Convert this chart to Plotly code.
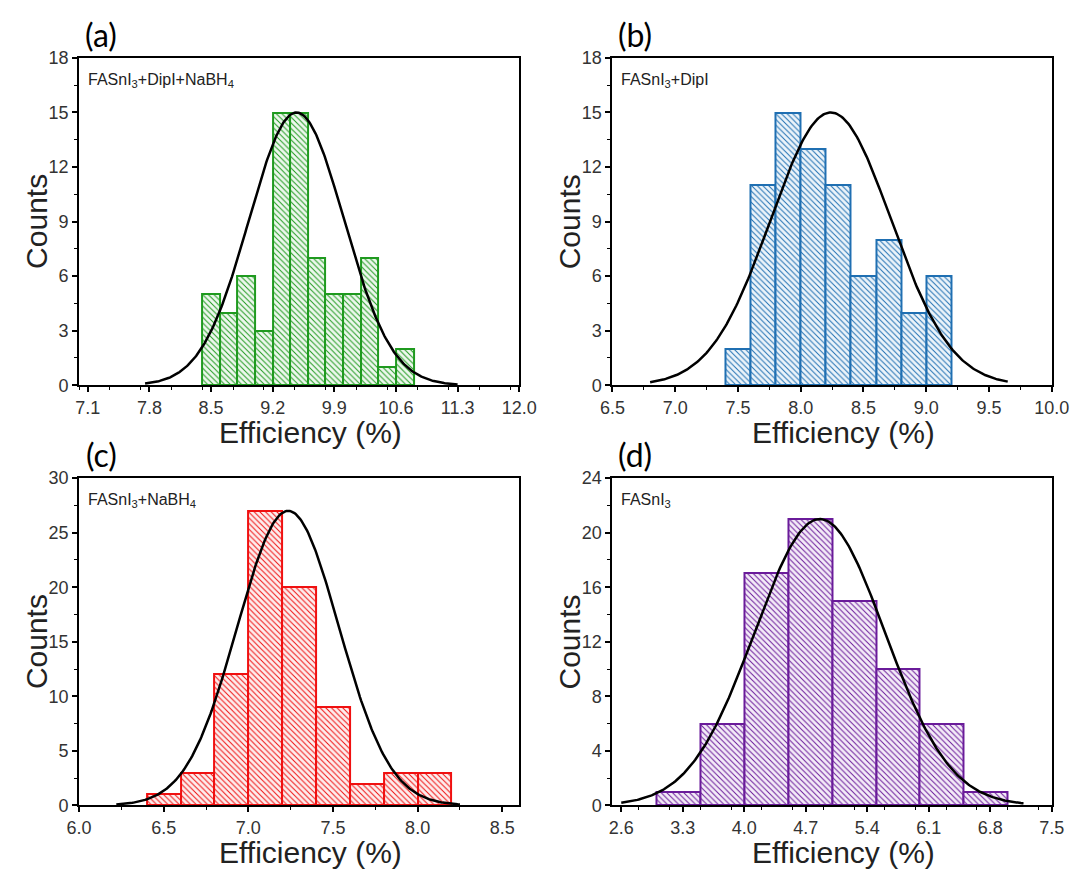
import numpy as np
import plotly.graph_objects as go

W, H = 1092, 879

# ---------------- data ----------------
# (a) FASnI3+DipI+NaBH4
a_left_edges = [8.4, 8.6, 8.8, 9.0, 9.2, 9.4, 9.6, 9.8, 10.0, 10.2, 10.4, 10.6]
a_counts = [5, 4, 6, 3, 15, 15, 7, 5, 5, 7, 1, 2]
a_bin = 0.2
a_fit = dict(mean=9.47, sigma=0.54, peak=15.0, lo=7.75, hi=11.3)

# (b) FASnI3+DipI
b_left_edges = [7.4, 7.6, 7.8, 8.0, 8.2, 8.4, 8.6, 8.8, 9.0]
b_counts = [2, 11, 15, 13, 11, 6, 8, 4, 6]
b_bin = 0.2
b_fit = dict(mean=8.24, sigma=0.48, peak=15.0, lo=6.8, hi=9.65)

# (c) FASnI3+NaBH4
c_left_edges = [6.4, 6.6, 6.8, 7.0, 7.2, 7.4, 7.6, 7.8, 8.0]
c_counts = [1, 3, 12, 27, 20, 9, 2, 3, 3]
c_bin = 0.2
c_fit = dict(mean=7.235, sigma=0.30, peak=27.0, lo=6.22, hi=8.25)

# (d) FASnI3
d_left_edges = [3.0, 3.5, 4.0, 4.5, 5.0, 5.5, 6.0, 6.5]
d_counts = [1, 6, 17, 21, 15, 10, 6, 1]
d_bin = 0.5
d_fit = dict(mean=4.86, sigma=0.74, peak=21.0, lo=2.6, hi=7.18)

labels = ["FASnI<sub>3</sub>+DipI+NaBH<sub>4</sub>", "FASnI<sub>3</sub>+DipI",
          "FASnI<sub>3</sub>+NaBH<sub>4</sub>", "FASnI<sub>3</sub>"]
panel_tags = ["(a)", "(b)", "(c)", "(d)"]

x_ranges = [[7.0, 12.0], [6.5, 10.0], [6.0, 8.6], [2.5, 7.5]]
x_tick0 = [7.1, 6.5, 6.0, 2.6]
x_dtick = [0.7, 0.5, 0.5, 0.7]
y_ranges = [[0, 18], [0, 18], [0, 30], [0, 24]]
y_dtick = [3, 3, 5, 4]

colors = ["#1f9a1f", "#1f6fb2", "#f01010", "#6a1b9a"]
bg_tints = ["#eef8ee", "#ecf4fa", "#fdeeee", "#f4ecf8"]

panels = [
    (a_left_edges, a_counts, a_bin, a_fit),
    (b_left_edges, b_counts, b_bin, b_fit),
    (c_left_edges, c_counts, c_bin, c_fit),
    (d_left_edges, d_counts, d_bin, d_fit),
]

# plot areas in pixels (left, right, top, bottom)
boxes = [(68, 521, 49, 384), (617, 1069, 49, 384),
         (68, 521, 479, 814), (617, 1069, 479, 814)]

fig = go.Figure()
FONT = "Liberation Sans, Arial, sans-serif"

for i, ((edges, counts, bw, fit), box) in enumerate(zip(panels, boxes)):
    n = "" if i == 0 else str(i + 1)
    xa, ya = "x" + n, "y" + n
    centers = [e + bw / 2 for e in edges]
    fig.add_trace(go.Bar(
        x=centers, y=counts, width=bw, xaxis=xa, yaxis=ya,
        marker=dict(color=bg_tints[i],
                    line=dict(color=colors[i], width=2),
                    pattern=dict(shape="\\", fgcolor=colors[i], bgcolor=bg_tints[i],
                                 size=4, solidity=0.25, fillmode="replace")),
        showlegend=False))
    xs = np.linspace(fit["lo"], fit["hi"], 300)
    ys = fit["peak"] * np.exp(-0.5 * ((xs - fit["mean"]) / fit["sigma"]) ** 2)
    fig.add_trace(go.Scatter(x=xs, y=ys, mode="lines", xaxis=xa, yaxis=ya,
                             line=dict(color="black", width=2.5), showlegend=False))

    l, r, t, b = box
    xd = [l / W, r / W]
    yd = [1 - b / H, 1 - t / H]
    axis_common = dict(showline=True, linecolor="black", linewidth=2, mirror=True,
                       showgrid=False, zeroline=False, ticks="outside", ticklen=5,
                       tickwidth=1.5, tickcolor="black",
                       tickfont=dict(family=FONT, size=18, color="#333"))
    fig.update_layout(**{
        "xaxis" + n: dict(domain=xd, range=x_ranges[i], tick0=x_tick0[i], dtick=x_dtick[i],
                          tickformat=".1f", anchor=ya,
                          minor=dict(ticks="outside", ticklen=3, tickwidth=1.2,
                                     tickcolor="black", dtick=x_dtick[i] / 2),
                          **axis_common),
        "yaxis" + n: dict(domain=yd, range=y_ranges[i], tick0=0, dtick=y_dtick[i],
                          anchor=xa,
                          minor=dict(ticks="outside", ticklen=3, tickwidth=1.2,
                                     tickcolor="black", dtick=y_dtick[i] / 2),
                          **axis_common),
    })
    # sample label
    fig.add_annotation(x=(l + 7) / W, y=1 - (t + 23) / H, xref="paper", yref="paper",
                       text=labels[i], showarrow=False, xanchor="left", yanchor="middle",
                       font=dict(family=FONT, size=16, color="#222"))
    # axis titles
    fig.add_annotation(x=((l + r) / 2 + 12) / W, y=1 - (b + 48) / H, xref="paper", yref="paper",
                       text="Efficiency (%)", showarrow=False, xanchor="center", yanchor="middle",
                       font=dict(family=FONT, size=30, color="#222"))
    fig.add_annotation(x=(l - 44) / W, y=1 - (t + b) / 2 / H, xref="paper", yref="paper",
                       text="Counts", showarrow=False, textangle=-90, xanchor="center",
                       yanchor="middle", font=dict(family=FONT, size=30, color="#222"))
    # panel tag
    fig.add_annotation(x=(l + 23) / W, y=1 - (t - 24) / H, xref="paper", yref="paper",
                       text=panel_tags[i], showarrow=False, xanchor="center", yanchor="middle",
                       font=dict(family="Lato, Open Sans, sans-serif", size=32, color="black"))

fig.update_layout(width=W, height=H, margin=dict(l=0, r=0, t=0, b=0),
                  paper_bgcolor="white", plot_bgcolor="white", bargap=0)

fig.write_html("out.html")
